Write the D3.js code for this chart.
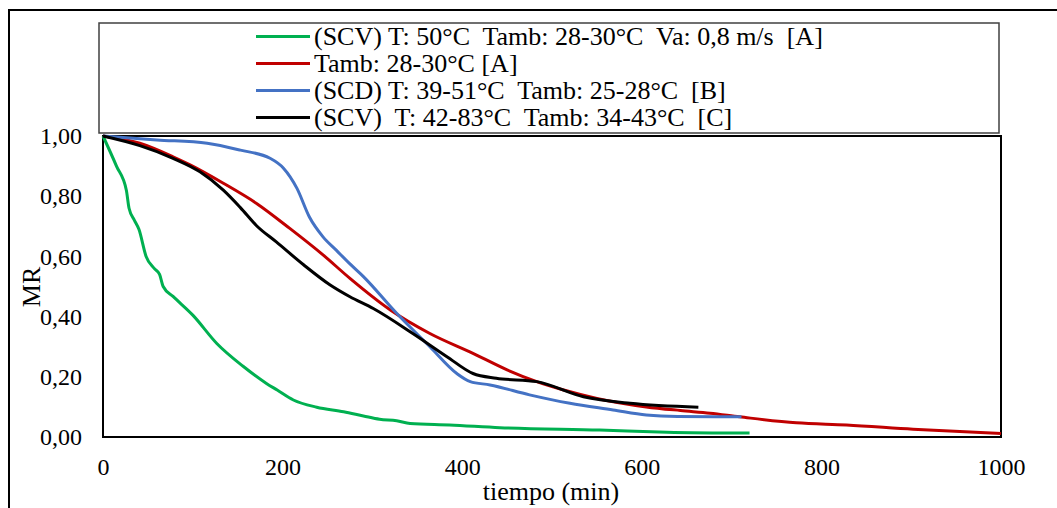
<!DOCTYPE html>
<html>
<head>
<meta charset="utf-8">
<script src="https://cdn.jsdelivr.net/npm/d3@7"></script>
<style>
  body { margin: 0; background: #fff; }
  svg text { font-family: "Liberation Serif", "Times New Roman", serif; fill: #000; }
</style>
</head>
<body>
<div id="chart"></div>
<script>
// data (t in min, MR)
const scvA = [[0,1],[15,0.9],[26,0.82],[29,0.76],[35,0.72],[40,0.69],[48,0.6],[57,0.56],[63,0.54],[67,0.5],
  [78,0.467],[100,0.405],[127,0.31],[156,0.235],[182,0.178],[194,0.156],[212,0.123],[238,0.099],[268,0.084],
  [290,0.07],[308,0.059],[327,0.054],[342,0.045],[386,0.04],[442,0.031],[553,0.023],[628,0.016],[720,0.013]]
const ambA = [[0,1],[41,0.976],[78,0.931],[97,0.904],[134,0.843],[171,0.776],[208,0.693],[245,0.605],
  [275,0.527],[320,0.422],[364,0.344],[412,0.278],[450,0.223],[483,0.184],[513,0.156],[550,0.128],
  [605,0.1],[643,0.088],[676,0.079],[709,0.067],[772,0.047],[828,0.04],[902,0.026],[1000,0.012]]
const scdB = [[0,1],[60,0.987],[116,0.976],[153,0.953],[186,0.926],[201,0.893],[216,0.826],[230,0.73],
  [245,0.665],[260,0.62],[275,0.575],[290,0.533],[327,0.411],[364,0.3],[394,0.211],[409,0.184],[431,0.173],
  [475,0.14],[520,0.112],[568,0.09],[605,0.073],[640,0.068],[711,0.067]]
const scvC = [[0,1],[41,0.968],[78,0.926],[108,0.881],[134,0.82],[153,0.762],[171,0.702],[193,0.648],
  [223,0.573],[253,0.505],[275,0.466],[301,0.427],[345,0.344],[383,0.267],[412,0.211],[438,0.195],
  [483,0.184],[535,0.134],[587,0.112],[663,0.099]]

const seriesNames = [
  '(SCV) T: 50°C  Tamb: 28-30°C  Va: 0,8 m/s  [A]',
  'Tamb: 28-30°C [A]',
  '(SCD) T: 39-51°C  Tamb: 25-28°C  [B]',
  '(SCV)  T: 42-83°C  Tamb: 34-43°C  [C]'
]
const seriesData = [scvA, ambA, scdB, scvC]
const seriesColors = ['#00B050', '#C00000', '#4472C4', '#000000']

const xTicks = [0, 200, 400, 600, 800, 1000]
const yTicks = [0, 0.2, 0.4, 0.6, 0.8, 1.0]

const W = 1057, H = 508
const plot = {left: 103, top: 136, right: 1001, bottom: 437}

const svg = d3.select('#chart').append('svg')
  .attr('width', W)
  .attr('height', H)

svg.append('rect').attr('width', W).attr('height', H).attr('fill', '#fff')

// outer chart frame (runs off the right and bottom edges)
svg.append('rect')
  .attr('x', 9).attr('y', 10)
  .attr('width', 1100).attr('height', 600)
  .attr('fill', 'none')
  .attr('stroke', '#000')
  .attr('stroke-width', 2)

const x = d3.scaleLinear().domain([0, 1000]).range([plot.left, plot.right])
const y = d3.scaleLinear().domain([0, 1]).range([plot.bottom, plot.top])

// plot area box
svg.append('rect')
  .attr('x', plot.left).attr('y', plot.top)
  .attr('width', plot.right - plot.left).attr('height', plot.bottom - plot.top)
  .attr('fill', 'none')
  .attr('stroke', '#000')
  .attr('stroke-width', 2)

const fmt = d => d3.format('.2f')(d).replace('.', ',')

const xAxis = svg.append('g')
  .attr('transform', `translate(0,${plot.bottom})`)
  .call(d3.axisBottom(x).tickValues(xTicks).tickFormat(d3.format('d')).tickSize(0).tickPadding(21))
xAxis.select('.domain').remove()
xAxis.selectAll('text').attr('font-size', 24).style('font-family', '"Liberation Serif", serif')

const yAxis = svg.append('g')
  .attr('transform', `translate(${plot.left},0)`)
  .call(d3.axisLeft(y).tickValues(yTicks).tickFormat(fmt).tickSize(0).tickPadding(21))
yAxis.select('.domain').remove()
yAxis.selectAll('text').attr('font-size', 24).style('font-family', '"Liberation Serif", serif')

svg.append('text')
  .attr('x', 551).attr('y', 500)
  .attr('text-anchor', 'middle')
  .attr('font-size', 26)
  .text('tiempo (min)')

svg.append('text')
  .attr('transform', 'translate(40,287) rotate(-90)')
  .attr('text-anchor', 'middle')
  .attr('font-size', 26)
  .text('MR')

const line = d3.line()
  .x(d => x(d[0]))
  .y(d => y(d[1]))
  .curve(d3.curveMonotoneX)

// draw in Excel order: green, red, blue, black on top
seriesData.forEach((s, i) => {
  svg.append('path')
    .datum(s)
    .attr('d', line)
    .attr('fill', 'none')
    .attr('stroke', seriesColors[i])
    .attr('stroke-width', 3)
    .attr('stroke-linejoin', 'round')
})

// legend
svg.append('rect')
  .attr('x', 99).attr('y', 23)
  .attr('width', 900).attr('height', 110)
  .attr('fill', '#fff')
  .attr('stroke', '#404040')
  .attr('stroke-width', 1.5)

const lg = svg.append('g')
seriesNames.forEach((name, i) => {
  const ly = 36.5 + i * 27
  lg.append('line')
    .attr('x1', 256).attr('x2', 310)
    .attr('y1', ly).attr('y2', ly)
    .attr('stroke', seriesColors[i])
    .attr('stroke-width', 3)
  lg.append('text')
    .attr('x', 314).attr('y', ly + 8.5)
    .attr('font-size', 26)
    .attr('xml:space', 'preserve')
    .style('white-space', 'pre')
    .text(name)
})
</script>
</body>
</html>
